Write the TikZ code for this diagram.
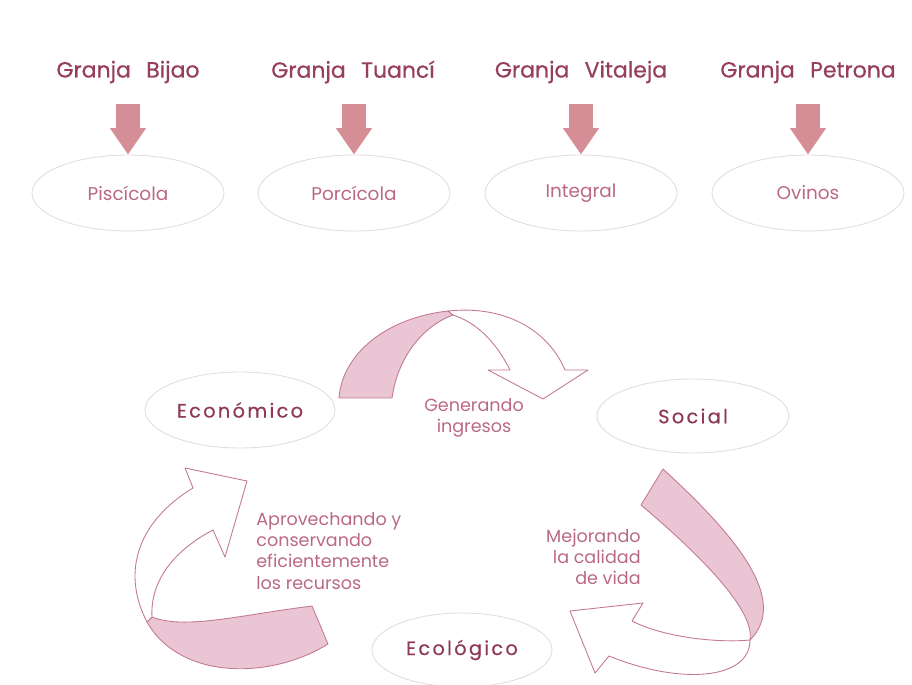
\documentclass[tikz,border=0pt]{standalone}
\usepackage{fontspec}
\setmainfont{Poppins}
\newfontfamily\medfont[FakeBold=0.6]{Poppins}
\newfontfamily\spacedfont[FakeBold=0.5,LetterSpace=12]{Poppins}
\usetikzlibrary{shapes.geometric,arrows.meta}
\definecolor{granjacol}{RGB}{150,62,92}
\definecolor{lightcol}{RGB}{186,104,132}
\definecolor{bigcol}{RGB}{142,58,84}
\definecolor{arrowfill}{RGB}{214,142,150}
\definecolor{ribfill}{RGB}{234,198,212}
\definecolor{ribdraw}{RGB}{196,120,148}
\definecolor{ellcol}{RGB}{222,222,222}
\tikzset{
  granja/.style={text=granjacol, font=\medfont\fontsize{12.5}{14}\selectfont, inner sep=0pt},
  farm/.style={ellipse, draw=ellcol, line width=0.5pt, minimum width=3.84cm, minimum height=1.52cm, inner sep=0pt, text=lightcol, font=\fontsize{10.5}{12}\selectfont},
  pillar/.style={ellipse, draw=ellcol, line width=0.5pt, inner sep=0pt, text=bigcol, font=\spacedfont\fontsize{11}{13}\selectfont},
  downarrow/.style={draw=arrowfill, line width=13.6pt, -{Triangle[width=19.5pt,length=15pt]}, arrowfill},
  ribshade/.style={fill=ribfill, draw=ribdraw, line width=0.5pt, line join=round},
  ribwhite/.style={fill=white, draw=ribdraw, line width=0.5pt, line join=round},
  label/.style={text=lightcol, font=\fontsize{10}{12}\selectfont, inner sep=0pt},
}
\begin{document}
\begin{tikzpicture}[x=0.02cm,y=-0.02cm]
\useasboundingbox (0,0) rectangle (912,685);
% top row
\node[granja] (g1) at (128,72) {Granja\hspace{0.7em}Bijao};
\node[granja] (g2) at (353,72) {Granja\hspace{0.7em}Tuancí};
\node[granja] (g3) at (581,72) {Granja\hspace{0.7em}Vitaleja};
\node[granja] (g4) at (808,72) {Granja\hspace{0.7em}Petrona};
\node[farm] (f1) at (128,193) {Piscícola};
\node[farm] (f2) at (354,193) {Porcícola};
\node[farm] (f3) at (581,193) {Integral};
\node[farm] (f4) at (808,193) {Ovinos};
\coordinate (a1) at (128,104);
\coordinate (a2) at (354,104);
\coordinate (a3) at (581,104);
\coordinate (a4) at (808,104);
\draw[downarrow] (a1) -- (f1.north);
\draw[downarrow] (a2) -- (f2.north);
\draw[downarrow] (a3) -- (f3.north);
\draw[downarrow] (a4) -- (f4.north);
% bottom cycle
\node[pillar, minimum width=3.8cm, minimum height=1.52cm] (eco) at (240,410) {Económico};
\node[pillar, minimum width=3.84cm, minimum height=1.48cm] (soc) at (693,416) {Social};
\node[pillar, minimum width=3.6cm, minimum height=1.48cm] (ecol) at (462,650) {Ecológico};
% ribbon: economico -> social
\path[ribshade] (339,398) -- (392,398) .. controls (398,355) and (425,325) .. (453,315) -- (448,311) .. controls (385,318) and (342,355) .. (339,398) -- cycle;
\path[ribwhite] (448,311) .. controls (505,305) and (548,330) .. (565,370) -- (588,370) -- (543,399) -- (488,370) -- (510,370) .. controls (495,340) and (475,322) .. (453,315) -- cycle;
% ribbon: social -> ecologico
\path[ribshade] (663,469) -- (641,505) .. controls (700,555) and (755,610) .. (750,640) .. controls (790,600) and (735,535) .. (663,469) -- cycle;
\path[ribwhite] (750,640) .. controls (750,680) and (680,685) .. (609,656) -- (595,673) -- (570,611) -- (643,603) -- (632,621) .. controls (665,638) and (720,643) .. (750,640) -- cycle;
% ribbon: ecologico -> economico
\path[ribshade] (312,606) -- (328,644) .. controls (270,680) and (180,680) .. (147,622) -- (152,617) .. controls (185,630) and (240,615) .. (312,606) -- cycle;
\path[ribwhite] (147,622) .. controls (120,570) and (140,520) .. (193,488) -- (185,468) -- (247,481) -- (225,557) -- (213,530) .. controls (175,550) and (150,580) .. (152,617) -- cycle;
% labels
\node[label, align=center] (l1) at (474,418) {Generando\\ingresos};
\node[label, align=right, anchor=east] (l2) at (641,557) {Mejorando\\la calidad\\de vida};
\node[label, align=left, anchor=west] (l3) at (256,551) {Aprovechando y\\conservando\\eficientemente\\los recursos};
\end{tikzpicture}
\end{document}
